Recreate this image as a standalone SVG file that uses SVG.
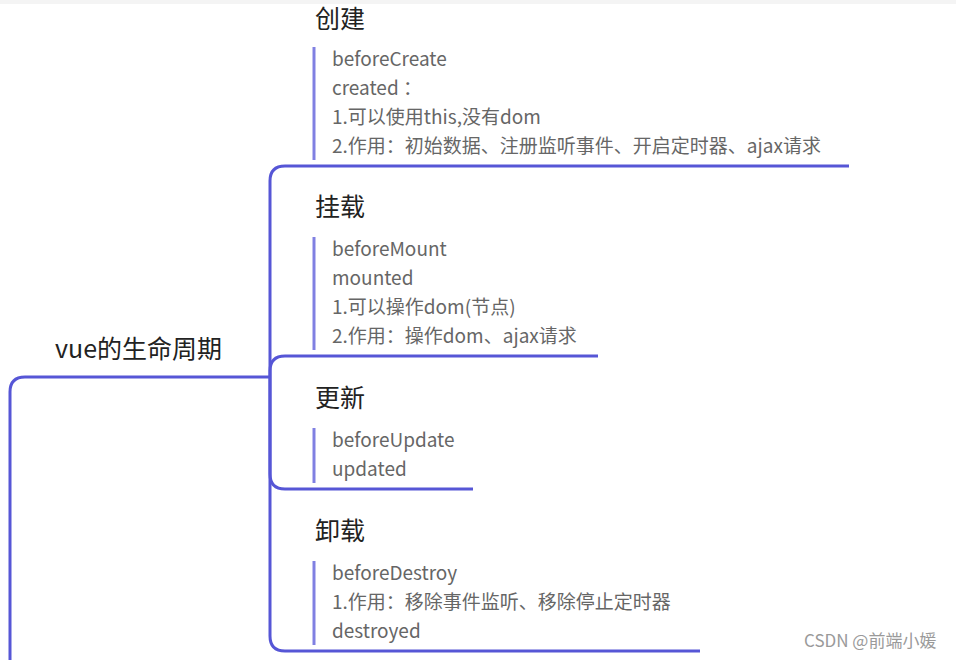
<svg xmlns="http://www.w3.org/2000/svg" width="956" height="660" viewBox="0 0 956 660">
<style>
.conn{fill:none;stroke:#5656d6;stroke-width:3;stroke-linecap:butt}
.bar{stroke:#8080e2;stroke-width:3}
.title{font-family:"Noto Sans CJK SC","Microsoft YaHei",sans-serif;font-size:25px;fill:#222}
.root{font-family:"Noto Sans CJK SC","Microsoft YaHei",sans-serif;font-size:25px;fill:#222}
.det{font-family:"Noto Sans CJK SC","Microsoft YaHei",sans-serif;font-size:19px;fill:#666}
.wm{font-family:"Noto Sans CJK SC",sans-serif;font-size:17px;fill:#9a9a9a}
</style>
<rect x="0" y="0" width="956" height="660" fill="#ffffff"/>
<rect x="0" y="0" width="956" height="4" fill="#f4f4f4"/>
<g id="connectors">
<path class="conn" d="M10 660 V392 Q10 377 25 377 H270"/>
<path class="conn" d="M270 377 V181 Q270 166 285 166 H849"/>
<path class="conn" d="M270 377 V371 Q270 356 285 356 H598"/>
<path class="conn" d="M270 377 V474 Q270 489 285 489 H473"/>
<path class="conn" d="M270 377 V636 Q270 651 285 651 H700"/>
</g>
<g id="root">
<text class="root" x="55" y="358">vue的生命周期</text>
</g>
<g id="create">
<text class="title" x="315" y="28">创建</text>
<line class="bar" x1="314" y1="47" x2="314" y2="160"/>
<text class="det" x="332" y="66">beforeCreate</text>
<text class="det" x="332" y="95">created ：</text>
<text class="det" x="332" y="124">1.可以使用this,没有dom</text>
<text class="det" x="332" y="153">2.作用：初始数据、注册监听事件、开启定时器、ajax请求</text>
</g>
<g id="mount">
<text class="title" x="315" y="216">挂载</text>
<line class="bar" x1="314" y1="237" x2="314" y2="350"/>
<text class="det" x="332" y="256">beforeMount</text>
<text class="det" x="332" y="285">mounted</text>
<text class="det" x="332" y="314">1.可以操作dom(节点)</text>
<text class="det" x="332" y="343">2.作用：操作dom、ajax请求</text>
</g>
<g id="update">
<text class="title" x="315" y="407">更新</text>
<line class="bar" x1="314" y1="428" x2="314" y2="483"/>
<text class="det" x="332" y="447">beforeUpdate</text>
<text class="det" x="332" y="476">updated</text>
</g>
<g id="destroy">
<text class="title" x="315" y="540">卸载</text>
<line class="bar" x1="314" y1="561" x2="314" y2="645"/>
<text class="det" x="332" y="580">beforeDestroy</text>
<text class="det" x="332" y="609">1.作用：移除事件监听、移除停止定时器</text>
<text class="det" x="332" y="638">destroyed</text>
</g>
<text class="wm" x="804" y="647">CSDN @前端小媛</text>
</svg>
